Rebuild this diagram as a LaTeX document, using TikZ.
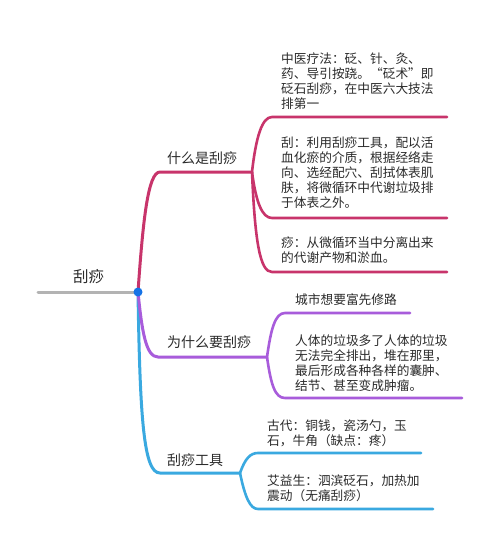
\documentclass[tikz,border=0pt]{standalone}
\usepackage{fontspec}
\setmainfont{Noto Sans CJK SC}
\definecolor{brcrimson}{HTML}{C8346B}
\definecolor{brpurple}{HTML}{A85CDB}
\definecolor{brblue}{HTML}{3AA9E0}
\definecolor{stemgray}{HTML}{B3B3B3}
\definecolor{hubblue}{HTML}{1673E6}
\definecolor{inktext}{HTML}{2B2B2B}

\begin{document}
\begin{tikzpicture}[x=1pt, y=-1pt, line cap=round,
 topic/.style={anchor=west, inner sep=0pt, text=inktext, font=\fontsize{14}{16}\selectfont},
 detail/.style={anchor=west, inner sep=0pt, align=left, text=inktext, font=\fontsize{12.7}{15}\selectfont},
 limb/.style={line width=3pt},
 twig/.style={line width=2.6pt}]
\fill[white] (0,0) rectangle (500,549);
\useasboundingbox (0,0) rectangle (500,549);

% junctions and line ends
\coordinate (tail) at (38,292);
\coordinate (hub) at (138,292);
\coordinate (whatL) at (160,172);  \coordinate (whatR) at (252,172);
\coordinate (whyL) at (158,357);   \coordinate (whyR) at (267,357);
\coordinate (toolsL) at (160,473); \coordinate (toolsR) at (240,473);
\coordinate (originL) at (272,117); \coordinate (originR) at (447,117);
\coordinate (scrapeL) at (272,218); \coordinate (scrapeR) at (447,218);
\coordinate (stasisL) at (272,272); \coordinate (stasisR) at (447,272);
\coordinate (roadL) at (285,313);  \coordinate (roadR) at (410,313);
\coordinate (wasteL) at (285,398); \coordinate (wasteR) at (462,398);
\coordinate (ancientL) at (258,453); \coordinate (ancientR) at (421,453);
\coordinate (modernL) at (258,509);  \coordinate (modernR) at (433,509);

% texts
\node[topic, font=\fontsize{15.5}{18}\selectfont] (root) at (73,277) {刮痧};
\node[topic] (what) at (167,158) {什么是刮痧};
\node[topic] (why) at (167,342) {为什么要刮痧};
\node[topic] (tools) at (167,460) {刮痧工具};
\node[detail] (origin) at (281,81) {中医疗法：砭、针、灸、\\药、导引按跷。“砭术”即\\砭石刮痧，在中医六大技法\\排第一};
\node[detail] (scrape) at (281,173) {刮：利用刮痧工具，配以活\\血化瘀的介质，根据经络走\\向、选经配穴、刮拭体表肌\\肤，将微循环中代谢垃圾排\\于体表之外。};
\node[detail] (stasis) at (281,250.5) {痧：从微循环当中分离出来\\的代谢产物和淤血。};
\node[detail] (road) at (295,300) {城市想要富先修路};
\node[detail] (waste) at (295,363.5) {人体的垃圾多了人体的垃圾\\无法完全排出，堆在那里，\\最后形成各种各样的囊肿、\\结节、甚至变成肿瘤。};
\node[detail] (ancient) at (267,433.5) {古代：铜钱，瓷汤勺，玉\\石，牛角（缺点：疼）};
\node[detail] (modern) at (267,488) {艾益生：泗滨砭石，加热加\\震动（无痛刮痧）};

% branches
\draw[limb, stemgray] (tail) -- (hub);
\draw[limb, brblue] (hub) .. controls +(2,130) and +(-16,0) .. (toolsL) -- (toolsR);
\draw[limb, brpurple] (hub) .. controls +(4,40) and +(-12,0) .. (whyL) -- (whyR);
\draw[limb, brcrimson] (hub) .. controls +(5,-72) and +(-12,0) .. (whatL) -- (whatR);
\draw[twig, brcrimson] (whatR) .. controls +(4,-35) and +(-10,0) .. (originL) -- (originR);
\draw[twig, brcrimson] (whatR) .. controls +(4,30) and +(-10,0) .. (scrapeL) -- (scrapeR);
\draw[twig, brcrimson] (whatR) .. controls +(3,70) and +(-12,0) .. (stasisL) -- (stasisR);
\draw[twig, brpurple] (whyR) .. controls +(4,-28) and +(-10,0) .. (roadL) -- (roadR);
\draw[twig, brpurple] (whyR) .. controls +(4,28) and +(-10,0) .. (wasteL) -- (wasteR);
\draw[twig, brblue] (toolsR) .. controls +(5,-14) and +(-8,0) .. (ancientL) -- (ancientR);
\draw[twig, brblue] (toolsR) .. controls +(5,24) and +(-8,0) .. (modernL) -- (modernR);
\fill[hubblue] (hub) circle (4.5);
\end{tikzpicture}
\end{document}
